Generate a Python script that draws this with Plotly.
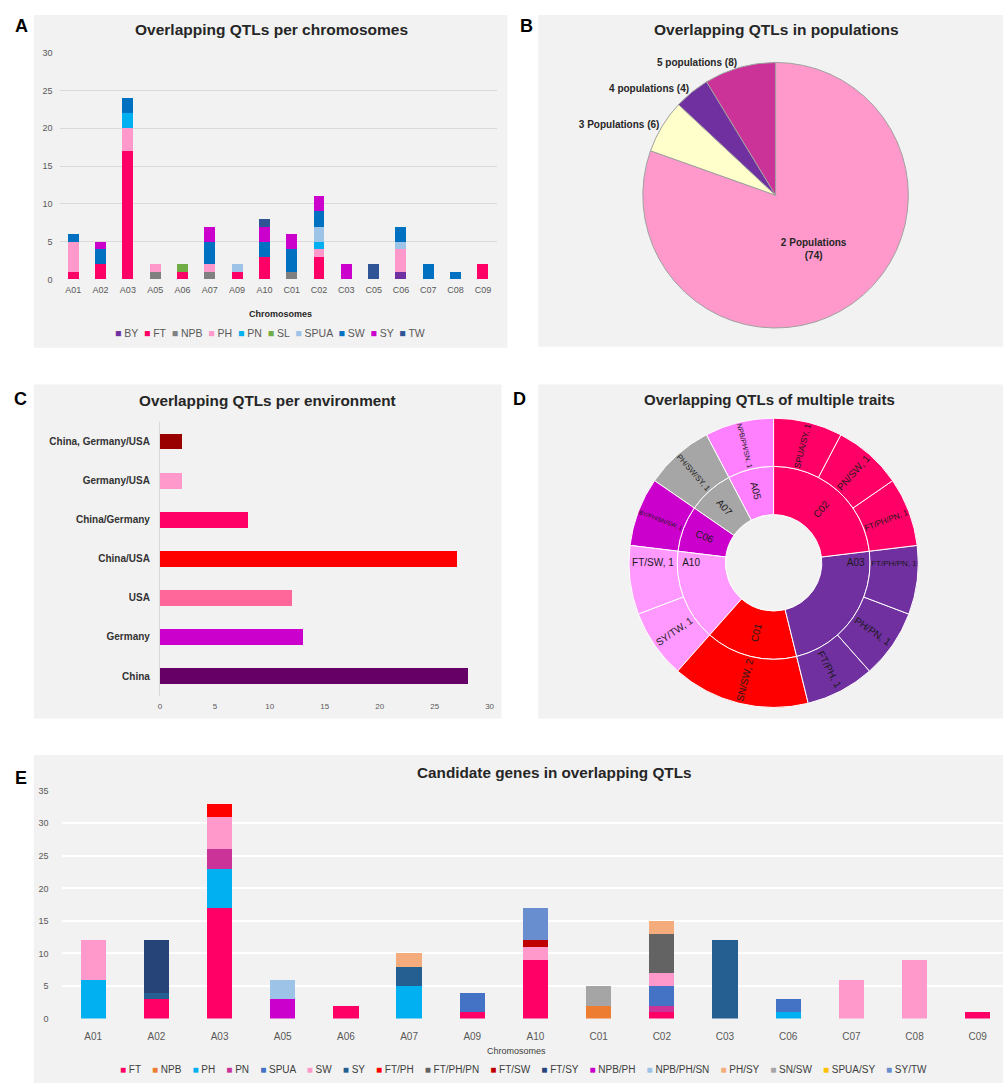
import plotly.graph_objects as go

W, H = 1008, 1088
def X(px): return px / W
def Y(py): return 1 - py / H

FONT = "Liberation Sans, Arial, sans-serif"
NARROW = "Liberation Sans Narrow, Arial Narrow, Liberation Sans, sans-serif"
BG = "#F2F2F2"

# ---------------- Panel A data ----------------
chrom_a = ["A01","A02","A03","A05","A06","A07","A09","A10","C01","C02","C03","C05","C06","C07","C08","C09"]
traits_a = ["BY","FT","NPB","PH","PN","SL","SPUA","SW","SY","TW"]
colors_a = ["#7030A0","#FF0066","#808080","#FF99CC","#00B0F0","#70AD47","#9DC3E6","#0070C0","#CC00CC","#2F5597"]
a_BY   = [0,0,0,0,0,0,0,0,0,0,0,0,1,0,0,0]
a_FT   = [1,2,17,0,1,0,1,3,0,3,0,0,0,0,0,2]
a_NPB  = [0,0,0,1,0,1,0,0,1,0,0,0,0,0,0,0]
a_PH   = [4,0,3,1,0,1,0,0,0,1,0,0,3,0,0,0]
a_PN   = [0,0,2,0,0,0,0,0,0,1,0,0,0,0,0,0]
a_SL   = [0,0,0,0,1,0,0,0,0,0,0,0,0,0,0,0]
a_SPUA = [0,0,0,0,0,0,1,0,0,2,0,0,1,0,0,0]
a_SW   = [1,2,2,0,0,3,0,2,3,2,0,0,2,2,1,0]
a_SY   = [0,1,0,0,0,2,0,2,2,2,2,0,0,0,0,0]
a_TW   = [0,0,0,0,0,0,0,1,0,0,0,2,0,0,0,0]
series_a = [a_BY,a_FT,a_NPB,a_PH,a_PN,a_SL,a_SPUA,a_SW,a_SY,a_TW]

# ---------------- Panel B data ----------------
pop_labels = ["2 Populations","3 Populations","4 populations","5 populations"]
pop_values = [74,6,4,8]
pop_colors = ["#FF99CC","#FFFFCC","#7030A0","#CC3399"]

# ---------------- Panel C data ----------------
env_labels = ["China","Germany","USA","China/USA","China/Germany","Germany/USA","China, Germany/USA"]
env_values = [28,13,12,27,8,2,2]
env_colors = ["#660066","#CC00CC","#FF6699","#FF0000","#FF0066","#FF99CC","#990000"]

# ---------------- Panel D data (clockwise from 12 o'clock) ----------------
sb_chrom = ["C02","A03","C01","A10","C06","A07","A05"]
sb_chrom_colors = ["#FF0066","#7030A0","#FF0000","#FF99FF","#CC00CC","#A6A6A6","#FF80FF"]
sb_leaf_parent = ["C02","C02","C02","A03","A03","A03","C01","A10","A10","C06","A07","A05"]
sb_leaf_label  = ["SPUA/SY","PN/SW","FT/PH/PN","FT/PH/PN","PH/PN","FT/PH","SN/SW","SY/TW","FT/SW","BY/PH/SN/SW","PH/SW/SY","NPB/PH/SN"]
sb_leaf_value  = [1,1,1,1,1,1,2,1,1,1,1,1]

# ---------------- Panel E data ----------------
chrom_e = ["A01","A02","A03","A05","A06","A07","A09","A10","C01","C02","C03","C06","C07","C08","C09"]
traits_e = ["FT","NPB","PH","PN","SPUA","SW","SY","FT/PH","FT/PH/PN","FT/SW","FT/SY","NPB/PH","NPB/PH/SN","PH/SY","SN/SW","SPUA/SY","SY/TW"]
colors_e = ["#FF0066","#ED7D31","#00B0F0","#CC3399","#4472C4","#FF99CC","#255E91","#FF0000","#636363","#C00000",
            "#264478","#CC00CC","#9DC3E6","#F5AC7C","#A5A5A5","#FFC000","#698ED0"]
e_FT       = [0,3,17,0,2,0,1,9,0,1,0,0,0,0,1]
e_NPB      = [0,0,0,0,0,0,0,0,2,0,0,0,0,0,0]
e_PH       = [6,0,6,0,0,5,0,0,0,0,0,1,0,0,0]
e_PN       = [0,0,3,0,0,0,0,0,0,1,0,0,0,0,0]
e_SPUA     = [0,0,0,0,0,0,3,0,0,3,0,2,0,0,0]
e_SW       = [6,0,5,0,0,0,0,2,0,2,0,0,6,9,0]
e_SY       = [0,1,0,0,0,3,0,0,0,0,12,0,0,0,0]
e_FT_PH    = [0,0,2,0,0,0,0,0,0,0,0,0,0,0,0]
e_FT_PH_PN = [0,0,0,0,0,0,0,0,0,6,0,0,0,0,0]
e_FT_SW    = [0,0,0,0,0,0,0,1,0,0,0,0,0,0,0]
e_FT_SY    = [0,8,0,0,0,0,0,0,0,0,0,0,0,0,0]
e_NPB_PH   = [0,0,0,3,0,0,0,0,0,0,0,0,0,0,0]
e_NPB_PH_SN= [0,0,0,3,0,0,0,0,0,0,0,0,0,0,0]
e_PH_SY    = [0,0,0,0,0,2,0,0,0,2,0,0,0,0,0]
e_SN_SW    = [0,0,0,0,0,0,0,0,3,0,0,0,0,0,0]
e_SPUA_SY  = [0,0,0,0,0,0,0,0,0,0,0,0,0,0,0]
e_SY_TW    = [0,0,0,0,0,0,0,5,0,0,0,0,0,0,0]
series_e = [e_FT,e_NPB,e_PH,e_PN,e_SPUA,e_SW,e_SY,e_FT_PH,e_FT_PH_PN,e_FT_SW,e_FT_SY,
            e_NPB_PH,e_NPB_PH_SN,e_PH_SY,e_SN_SW,e_SPUA_SY,e_SY_TW]

fig = go.Figure()

# Panel A bars
for name, col, vals in zip(traits_a, colors_a, series_a):
    fig.add_trace(go.Bar(x=chrom_a, y=vals, name=name, marker=dict(color=col, line=dict(width=0)),
                         xaxis="x", yaxis="y", showlegend=False))

# Panel B pie
fig.add_trace(go.Pie(
    labels=pop_labels, values=pop_values, sort=False, direction="clockwise", rotation=0,
    marker=dict(colors=pop_colors, line=dict(color="#A0A0A0", width=1)),
    texttemplate=["<b>%{label}<br>(%{value})</b>", "<b>%{label} (%{value})</b>",
                  "<b>%{label} (%{value})</b>", "<b>%{label} (%{value})</b>"],
    textposition=["inside","outside","outside","outside"],
    insidetextorientation="horizontal",
    textfont=dict(family=FONT, size=10, color="#262626"),
    domain=dict(x=[X(645), X(913)], y=[Y(326), Y(58)]),
    showlegend=False, hoverinfo="label+value"))

# Panel C bars
fig.add_trace(go.Bar(x=env_values, y=env_labels, orientation="h",
                     marker=dict(color=env_colors, line=dict(width=0)),
                     xaxis="x2", yaxis="y2", showlegend=False))

# Panel D sunburst (plotly lays children counter-clockwise, so feed them reversed)
ids = ["root"]
labels = [""]
parents = [""]
values = [sum(sb_leaf_value)]
colors = [BG]
texts = [""]
for c, col in reversed(list(zip(sb_chrom, sb_chrom_colors))):
    ids.append(c); labels.append(c); parents.append("root")
    values.append(sum(v for p, v in zip(sb_leaf_parent, sb_leaf_value) if p == c))
    colors.append(col); texts.append(c)
col_of = dict(zip(sb_chrom, sb_chrom_colors))
for p, l, v in reversed(list(zip(sb_leaf_parent, sb_leaf_label, sb_leaf_value))):
    ids.append(p + "-" + l); labels.append(l); parents.append(p); values.append(v)
    colors.append(col_of[p]); texts.append(f"{l}, {v}")
fig.add_trace(go.Sunburst(
    ids=ids, labels=labels, parents=parents, values=values, branchvalues="total",
    text=texts, textinfo="text", sort=False, rotation=90,
    insidetextorientation="radial", leaf=dict(opacity=1),
    insidetextfont=dict(family=FONT, size=10, color="#1A1A1A"),
    marker=dict(colors=colors, line=dict(color="#FFFFFF", width=1)),
    domain=dict(x=[X(631), X(923)], y=[Y(709), Y(417)])))

# Panel E bars
for name, col, vals in zip(traits_e, colors_e, series_e):
    fig.add_trace(go.Bar(x=chrom_e, y=vals, name=name, marker=dict(color=col, line=dict(width=0)),
                         xaxis="x3", yaxis="y3", showlegend=False))

tick_gray = "#595959"
fig.update_layout(
    width=W, height=H, margin=dict(l=0, r=0, t=0, b=0),
    paper_bgcolor="white", plot_bgcolor="rgba(0,0,0,0)",
    barmode="stack", bargap=0.6,
    font=dict(family=FONT, color="#262626"),
    xaxis=dict(domain=[X(58), X(498)], anchor="y", showgrid=False, showline=False, ticks="",
               tickfont=dict(family=FONT, size=9, color=tick_gray), ticklabelstandoff=4, fixedrange=True),
    yaxis=dict(domain=[Y(277), Y(48)], anchor="x", range=[0, 30], dtick=5, showgrid=True,
               gridcolor="#D9D9D9", gridwidth=1, zeroline=False, showline=False, ticks="",
               tickfont=dict(family=FONT, size=9, color=tick_gray), ticklabelstandoff=6),
    xaxis2=dict(domain=[X(159), X(491)], anchor="y2", range=[0, 30], dtick=5, showgrid=False,
                zeroline=False, showline=False, ticks="",
                tickfont=dict(family=FONT, size=8, color=tick_gray), ticklabelstandoff=4),
    yaxis2=dict(domain=[Y(697), Y(421)], anchor="x2", showgrid=False, showline=True,
                linecolor="#D9D9D9", linewidth=1, ticks="",
                tickfont=dict(family=FONT, size=10, color="#333333", weight="bold"),
                ticklabelstandoff=7),
    xaxis3=dict(domain=[X(60), X(1008)], anchor="y3", range=[-0.5, 14.4], showgrid=False,
                showline=False, ticks="",
                tickfont=dict(family=NARROW, size=10, color=tick_gray), ticklabelstandoff=10),
    yaxis3=dict(domain=[Y(1023), Y(793)], anchor="x3", range=[0, 35], dtick=5, showgrid=True,
                gridcolor="#FFFFFF", gridwidth=2, zeroline=False, showline=False, ticks="",
                tickfont=dict(family=FONT, size=9, color=tick_gray), ticklabelstandoff=12),
)

# panel backgrounds
boxes = [(32, 10, 509, 346), (540, 10, 1008, 345), (32, 383, 503, 720),
         (540, 383, 1008, 720), (32, 757, 1008, 1088)]
for x0, y0, x1, y1 in boxes:
    fig.add_shape(type="rect", xref="paper", yref="paper", x0=X(x0), x1=X(x1), y0=Y(y1), y1=Y(y0),
                  fillcolor=BG, line=dict(width=0), layer="below")

def ann(text, px, py, size, bold=True, color="#262626", family=FONT, xanchor="center"):
    fig.add_annotation(text=(f"<b>{text}</b>" if bold else text), x=X(px), y=Y(py),
                       xref="paper", yref="paper", showarrow=False, xanchor=xanchor, yanchor="middle",
                       font=dict(family=family, size=size, color=color))

# panel letters
for letter, px, py in [("A", 20, 21), ("B", 528, 21), ("C", 19, 398), ("D", 521, 398), ("E", 19, 780)]:
    ann(letter, px, py, 18, color="#000000", family="Liberation Sans, Arial")

# titles
ann("Overlapping QTLs per chromosomes", 271, 25, 15.5)
ann("Overlapping QTLs in populations", 780, 25, 15.5)
ann("Overlapping QTLs per environment", 267, 399, 15.3)
ann("Overlapping QTLs of multiple traits", 773, 398, 15)
ann("Candidate genes in overlapping QTLs", 556, 775, 15.3)

# axis titles
ann("Chromosomes", 280, 312, 9)
ann("Chromosomes", 518, 1056, 9, bold=False, family=NARROW, color="#404040")

# legends
def legend_text(names, cols, sep):
    return sep.join(f'<span style="color:{c}">■</span> {n}' for n, c in zip(names, cols))

ann(legend_text(traits_a, colors_a, "  "), 270, 331, 10.5, bold=False, color=tick_gray)
ann(legend_text(traits_e, colors_e, "    "), 525, 1074, 10, bold=False, color="#404040", family=NARROW)

fig.write_html("out.html")
